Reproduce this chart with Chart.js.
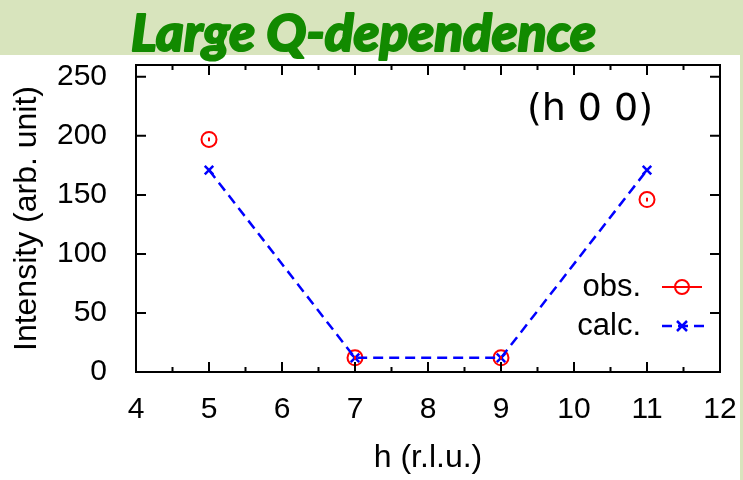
<!DOCTYPE html>
<html>
<head>
<meta charset="utf-8">
<script src="https://cdn.jsdelivr.net/npm/chart.js@4/dist/chart.umd.min.js"></script>
<style>
  html, body { margin: 0; padding: 0; background: #d8e4bd; }
  #wrap { position: relative; width: 743px; height: 480px; overflow: hidden; }
  #panel { position: absolute; left: 0; top: 55px; width: 740px; height: 425px; background: #ffffff; }
  canvas { position: absolute; left: 0; top: 0; }
</style>
</head>
<body>
<div id="wrap">
  <div id="panel"></div>
  <canvas id="c" width="743" height="480"></canvas>
</div>
<script>
// Reflection index h along (h 0 0)
const hValues = [5, 7, 9, 11];
// Observed intensities and their error bars
const obsIntensity = [197, 12, 12, 146];
const obsError = [1.5, 1.5, 1.5, 1.5];
// Calculated intensities
const calcIntensity = [171, 12, 12, 171];
// Axis tick values
const xTickValues = [4, 5, 6, 7, 8, 9, 10, 11, 12];
const yTickValues = [0, 50, 100, 150, 200, 250];

const SANS = "'Liberation Sans', Arial, sans-serif";
const TICK_FONT = { family: SANS, size: 30 };
const RED = '#ff0000';
const BLUE = '#0000ff';

function pts(ys) { return hValues.map((h, i) => ({ x: h, y: ys[i] })); }

// Frame, inward tick marks (mirrored on all four sides), error bars and key
const framePlugin = {
  id: 'frame',
  afterDatasetsDraw(chart) {
    const { ctx, chartArea: a, scales: { x, y } } = chart;
    ctx.save();
    // error bars on the observed points
    ctx.strokeStyle = RED;
    ctx.lineWidth = 2;
    hValues.forEach((h, i) => {
      const px = x.getPixelForValue(h);
      ctx.beginPath();
      ctx.moveTo(px, y.getPixelForValue(obsIntensity[i] - obsError[i]));
      ctx.lineTo(px, y.getPixelForValue(obsIntensity[i] + obsError[i]));
      ctx.stroke();
    });
    ctx.strokeStyle = '#000';
    ctx.lineWidth = 2;
    ctx.strokeRect(a.left, a.top, a.right - a.left, a.bottom - a.top);
    ctx.beginPath();
    const majX = x.ticks.map(t => t.value);
    majX.forEach((v, i) => {
      const px = x.getPixelForValue(v);
      ctx.moveTo(px, a.bottom); ctx.lineTo(px, a.bottom - 10);
      ctx.moveTo(px, a.top); ctx.lineTo(px, a.top + 10);
      if (i < majX.length - 1) {
        const mx = x.getPixelForValue((v + majX[i + 1]) / 2);
        ctx.moveTo(mx, a.bottom); ctx.lineTo(mx, a.bottom - 5);
        ctx.moveTo(mx, a.top); ctx.lineTo(mx, a.top + 5);
      }
    });
    y.ticks.forEach(t => {
      const py = y.getPixelForValue(t.value);
      ctx.moveTo(a.left, py); ctx.lineTo(a.left + 10, py);
      ctx.moveTo(a.right, py); ctx.lineTo(a.right - 10, py);
    });
    ctx.stroke();
    ctx.restore();
  },
  afterDraw(chart) {
    const { ctx } = chart;
    ctx.save();
    // headline, heavy green italic
    ctx.fillStyle = '#128a00';
    ctx.strokeStyle = '#128a00';
    ctx.lineWidth = 2;
    ctx.lineJoin = 'round';
    ctx.font = "italic 900 52px Lato, 'Noto Sans', sans-serif";
    ctx.textBaseline = 'alphabetic';
    ctx.textAlign = 'left';
    const head = 'Large Q-dependence';
    const w = ctx.measureText(head).width;
    ctx.translate(131, 51);
    ctx.scale(465 / w, 1);
    ctx.fillText(head, 0, 0);
    ctx.strokeText(head, 0, 0);
    ctx.restore();

    ctx.save();
    // direction label
    ctx.fillStyle = '#000';
    ctx.font = "38px 'DejaVu Sans', sans-serif";
    ctx.textAlign = 'center';
    ctx.textBaseline = 'middle';
    ctx.fillText('(h 0 0)', 590, 110);

    // key, text on the left, sample on the right
    ctx.font = "31px " + SANS;
    ctx.textAlign = 'right';
    const rows = [
      { label: 'obs.', y: 287 },
      { label: 'calc.', y: 326 }
    ];
    rows.forEach(r => ctx.fillText(r.label, 641, r.y));
    // obs sample
    ctx.strokeStyle = RED; ctx.lineWidth = 2;
    ctx.beginPath(); ctx.moveTo(662, 287); ctx.lineTo(702, 287); ctx.stroke();
    ctx.beginPath(); ctx.arc(682, 287, 7, 0, Math.PI * 2); ctx.stroke();
    // calc sample
    ctx.strokeStyle = BLUE;
    ctx.lineWidth = 2.5;
    ctx.setLineDash([10, 6]);
    ctx.beginPath(); ctx.moveTo(662, 326); ctx.lineTo(704, 326); ctx.stroke();
    ctx.setLineDash([]);
    ctx.beginPath();
    ctx.moveTo(677, 321); ctx.lineTo(687, 331);
    ctx.moveTo(687, 321); ctx.lineTo(677, 331);
    ctx.stroke();
    ctx.restore();
  }
};

new Chart(document.getElementById('c'), {
  type: 'scatter',
  data: {
    datasets: [
      {
        label: 'calc.',
        data: pts(calcIntensity),
        order: 0,
        showLine: true,
        borderColor: BLUE,
        borderWidth: 2.5,
        borderDash: [10, 6],
        pointStyle: 'crossRot',
        pointRadius: 6,
        pointBorderWidth: 2.5,
        pointBorderColor: BLUE,
        backgroundColor: BLUE
      },
      {
        label: 'obs.',
        data: pts(obsIntensity),
        order: 1,
        showLine: false,
        pointStyle: 'circle',
        pointRadius: 7.5,
        pointBorderWidth: 2,
        pointBorderColor: RED,
        pointBackgroundColor: 'rgba(0,0,0,0)'
      }
    ]
  },
  options: {
    responsive: false,
    animation: false,
    devicePixelRatio: 1,
    layout: { padding: { top: 65, right: 23, left: 0, bottom: 0 } },
    plugins: { legend: { display: false }, tooltip: { enabled: false }, title: { display: false } },
    scales: {
      x: {
        type: 'linear',
        min: 4,
        max: 12,
        afterBuildTicks: s => { s.ticks = xTickValues.map(v => ({ value: v })); },
        afterFit: s => { s.height = 108; s.paddingLeft = 0; s.paddingRight = 0; },
        grid: { display: false },
        border: { display: false },
        ticks: { font: TICK_FONT, color: '#000', padding: 12, maxRotation: 0 },
        title: {
          display: true,
          text: 'h (r.l.u.)',
          color: '#000',
          font: { family: SANS, size: 32 },
          padding: { top: 0, bottom: 3 }
        }
      },
      y: {
        type: 'linear',
        min: 0,
        max: 260,
        afterBuildTicks: s => { s.ticks = yTickValues.map(v => ({ value: v })); },
        afterFit: s => { s.width = 136; s.paddingTop = 0; s.paddingBottom = 0; },
        grid: { display: false },
        border: { display: false },
        ticks: { font: TICK_FONT, color: '#000', padding: 21 },
        title: {
          display: true,
          text: 'Intensity (arb. unit)',
          color: '#000',
          font: { family: SANS, size: 32 },
          padding: { top: 8, bottom: 0 }
        }
      }
    }
  },
  plugins: [framePlugin]
});
</script>
</body>
</html>
